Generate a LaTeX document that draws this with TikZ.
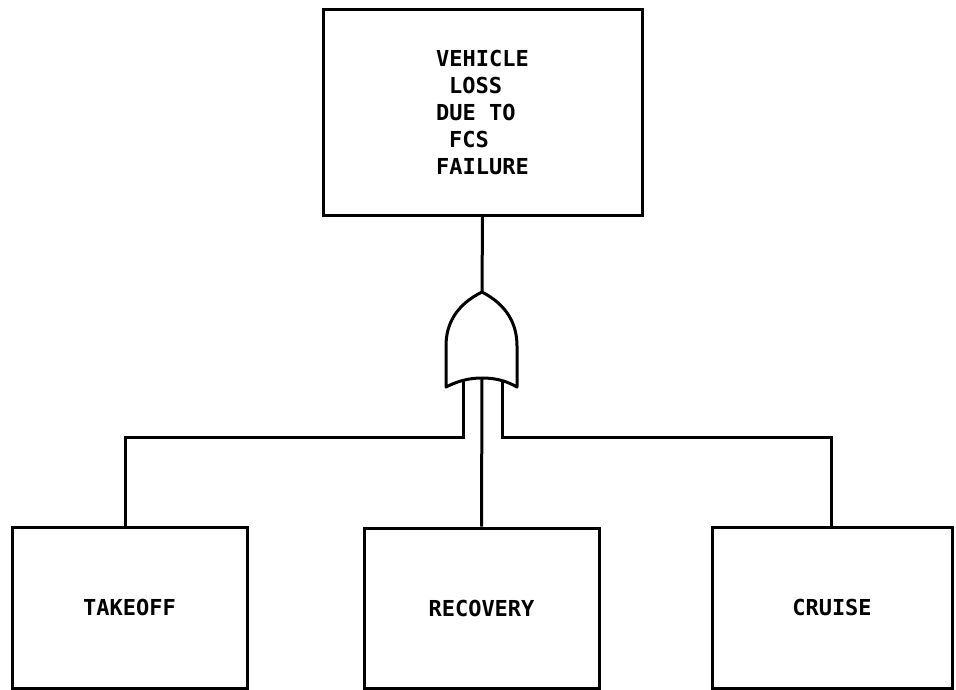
\documentclass[tikz,border=0pt]{standalone}
\usepackage{fontspec}
\setmonofont{DejaVu Sans Mono}
\begin{document}
\begin{tikzpicture}[x=1pt,y=-1pt,
  box/.style={draw,line width=3pt,inner sep=0pt,font=\ttfamily\bfseries\fontsize{22}{27}\selectfont},
  wire/.style={line width=3pt}]
\useasboundingbox (0,0) rectangle (956,690);
\node[box,minimum width=319pt,minimum height=205pt,align=left] (top) at (482.5,112.5)
  {VEHICLE\\\hspace*{13pt}LOSS\\DUE TO\\\hspace*{13pt}FCS\\FAILURE};
\node[box,minimum width=235pt,minimum height=161pt] (take) at (129.5,607.5) {TAKEOFF};
\node[box,minimum width=235pt,minimum height=160pt] (rec) at (481.5,608) {RECOVERY};
\node[box,minimum width=240pt,minimum height=161pt] (cru) at (832,607.5) {CRUISE};
% OR gate
\coordinate (gapex) at (482,292);
\coordinate (gmid) at (482,378);
\coordinate (gl) at (463,381);
\coordinate (gr) at (502,381);
\coordinate (jl) at (125,437);
\coordinate (jr) at (831,437);
\draw[wire,line join=round] (gapex) .. controls (456,305) and (446,324) .. (446,346) -- (446,387)
  .. controls (456,382) and (467,378) .. (gmid)
  .. controls (498,378) and (508,382) .. (517,387) -- (517,346)
  .. controls (517,324) and (507,305) .. (gapex) -- cycle;
\draw[wire] (top.south) -- (gapex);
\draw[wire] (gmid) -- (rec.north);
\draw[wire] (gl) |- (jl) -- (jl |- take.north);
\draw[wire] (gr) |- (jr) -- (jr |- cru.north);
\end{tikzpicture}
\end{document}
